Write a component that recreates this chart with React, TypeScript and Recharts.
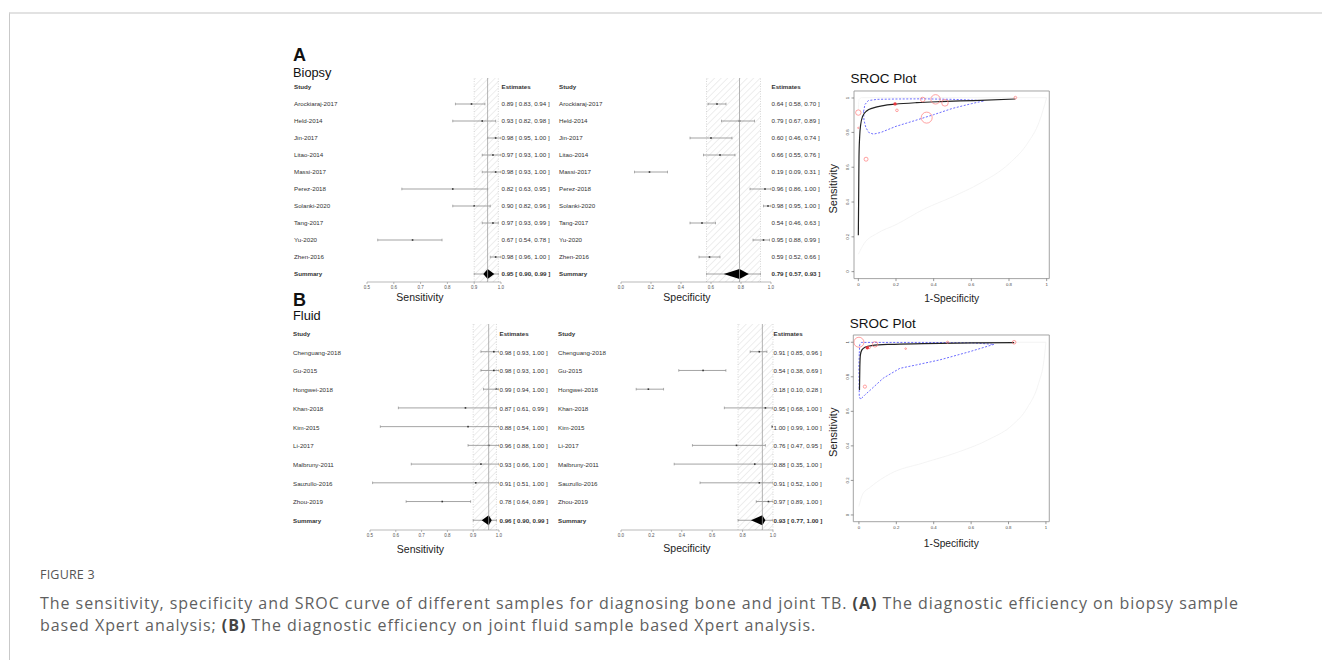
import React from "react";
import {
  Bar,
  ComposedChart,
  Label,
  Line,
  ReferenceArea,
  ReferenceLine,
  Scatter,
  XAxis,
  YAxis,
} from "recharts";

const PLOT_FONT = '"Liberation Sans", Arial, Helvetica, sans-serif';

// ---- (A) biopsy
const biopsyStudies = [
  "Arockiaraj-2017",
  "Held-2014",
  "Jin-2017",
  "Litao-2014",
  "Massi-2017",
  "Perez-2018",
  "Solanki-2020",
  "Tang-2017",
  "Yu-2020",
  "Zhen-2016",
];
const biopsySens = [0.89, 0.93, 0.98, 0.97, 0.98, 0.82, 0.9, 0.97, 0.67, 0.98];
const biopsySensLow = [0.83, 0.82, 0.95, 0.93, 0.93, 0.63, 0.82, 0.93, 0.54, 0.96];
const biopsySensHigh = [0.94, 0.98, 1.0, 1.0, 1.0, 0.95, 0.96, 0.99, 0.78, 1.0];
const biopsySpec = [0.64, 0.79, 0.6, 0.66, 0.19, 0.96, 0.98, 0.54, 0.95, 0.59];
const biopsySpecLow = [0.58, 0.67, 0.46, 0.55, 0.09, 0.86, 0.95, 0.46, 0.88, 0.52];
const biopsySpecHigh = [0.7, 0.89, 0.74, 0.76, 0.31, 1.0, 1.0, 0.63, 0.99, 0.66];
const biopsySummarySens = [0.95, 0.9, 0.99];
const biopsySummarySpec = [0.79, 0.57, 0.93];
const biopsyDiamondSens = [0.934, 0.975];
const biopsyDiamondSpec = [0.685, 0.852];

// ---- (B) joint fluid
const fluidStudies = [
  "Chenguang-2018",
  "Gu-2015",
  "Hongwei-2018",
  "Khan-2018",
  "Kim-2015",
  "Li-2017",
  "Malbruny-2011",
  "Sauzullo-2016",
  "Zhou-2019",
];
const fluidSens = [0.98, 0.98, 0.99, 0.87, 0.88, 0.96, 0.93, 0.91, 0.78];
const fluidSensLow = [0.93, 0.93, 0.94, 0.61, 0.54, 0.88, 0.66, 0.51, 0.64];
const fluidSensHigh = [1.0, 1.0, 1.0, 0.99, 1.0, 1.0, 1.0, 1.0, 0.89];
const fluidSpec = [0.91, 0.54, 0.18, 0.95, 1.0, 0.76, 0.88, 0.91, 0.97];
const fluidSpecLow = [0.85, 0.38, 0.1, 0.68, 0.99, 0.47, 0.35, 0.52, 0.89];
const fluidSpecHigh = [0.96, 0.69, 0.28, 1.0, 1.0, 0.95, 1.0, 1.0, 1.0];
const fluidSummarySens = [0.96, 0.9, 0.99];
const fluidSummarySpec = [0.93, 0.77, 1.0];
const fluidDiamondSens = [0.933, 0.972];
const fluidDiamondSpec = [0.855, 0.95];

const sensTicks = [0.5, 0.6, 0.7, 0.8, 0.9, 1.0];
const specTicks = [0, 0.2, 0.4, 0.6, 0.8, 1.0];
const rocTicks = [0, 0.2, 0.4, 0.6, 0.8, 1];

// SROC, x = 1 - specificity, y = sensitivity, w = study weight (circle size)
const biopsyRocPoints = [
  { x: 0.0, y: 0.914, w: 2.7 },
  { x: 0.0, y: 0.826, w: 0.7 },
  { x: 0.041, y: 0.646, w: 2.0 },
  { x: 0.205, y: 0.927, w: 1.3 },
  { x: 0.342, y: 0.989, w: 2.3 },
  { x: 0.41, y: 0.99, w: 4.7 },
  { x: 0.46, y: 0.97, w: 3.3 },
  { x: 0.363, y: 0.885, w: 5.5 },
  { x: 0.834, y: 1.0, w: 1.3 },
];
const biopsyRocSummary = [{ x: 0.195, y: 0.964 }];
const biopsyRocCurve = [
  { x: 0.0, y: 0.209 },
  { x: 0.002, y: 0.467 },
  { x: 0.0035, y: 0.659 },
  { x: 0.007, y: 0.774 },
  { x: 0.012, y: 0.841 },
  { x: 0.023, y: 0.893 },
  { x: 0.044, y: 0.923 },
  { x: 0.08, y: 0.941 },
  { x: 0.133, y: 0.954 },
  { x: 0.195, y: 0.962 },
  { x: 0.31, y: 0.971 },
  { x: 0.434, y: 0.977 },
  { x: 0.611, y: 0.983 },
  { x: 0.834, y: 0.992 },
];
const biopsyRocRegion = [
  { x: 0.028, y: 0.92 },
  { x: 0.035, y: 0.96 },
  { x: 0.053, y: 0.983 },
  { x: 0.1, y: 0.99 },
  { x: 0.2, y: 0.992 },
  { x: 0.345, y: 0.993 },
  { x: 0.5, y: 0.99 },
  { x: 0.6, y: 0.986 },
  { x: 0.669, y: 0.982 },
  { x: 0.6, y: 0.965 },
  { x: 0.5, y: 0.938 },
  { x: 0.4, y: 0.902 },
  { x: 0.3, y: 0.868 },
  { x: 0.2, y: 0.835 },
  { x: 0.12, y: 0.8 },
  { x: 0.08, y: 0.79 },
  { x: 0.055, y: 0.8 },
  { x: 0.04, y: 0.828 },
  { x: 0.03, y: 0.87 },
  { x: 0.028, y: 0.92 },
];
const biopsyRocFaintLow = [
  { x: 0.0, y: 0.1 },
  { x: 0.03, y: 0.16 },
  { x: 0.1, y: 0.22 },
  { x: 0.2, y: 0.27 },
  { x: 0.35, y: 0.36 },
  { x: 0.5, y: 0.43 },
  { x: 0.65, y: 0.51 },
  { x: 0.8, y: 0.62 },
  { x: 0.9, y: 0.74 },
  { x: 0.96, y: 0.86 },
  { x: 1.0, y: 1.0 },
];
const biopsyRocFaintTop = [
  { x: 0.0, y: 0.93 },
  { x: 0.004, y: 0.99 },
  { x: 0.02, y: 1.0 },
  { x: 1.0, y: 1.0 },
];

const fluidRocPoints = [
  { x: 0.0, y: 1.0, w: 5.0 },
  { x: 0.086, y: 0.988, w: 2.7 },
  { x: 0.055, y: 0.97, w: 1.2 },
  { x: 0.25, y: 0.963, w: 0.8 },
  { x: 0.474, y: 1.0, w: 1.1 },
  { x: 0.83, y: 1.0, w: 1.8 },
  { x: 0.032, y: 0.743, w: 1.6 },
];
const fluidRocSummary = [{ x: 0.045, y: 0.968 }];
const fluidRocCurve = [
  { x: 0.003, y: 0.724 },
  { x: 0.005, y: 0.86 },
  { x: 0.008, y: 0.927 },
  { x: 0.016, y: 0.956 },
  { x: 0.032, y: 0.971 },
  { x: 0.068, y: 0.981 },
  { x: 0.166, y: 0.988 },
  { x: 0.344, y: 0.992 },
  { x: 0.611, y: 0.996 },
  { x: 0.83, y: 0.998 },
];
const fluidRocRegion = [
  { x: 0.002, y: 0.936 },
  { x: 0.004, y: 0.985 },
  { x: 0.014, y: 0.999 },
  { x: 0.344, y: 0.999 },
  { x: 0.6, y: 0.997 },
  { x: 0.722, y: 0.988 },
  { x: 0.594, y: 0.946 },
  { x: 0.433, y: 0.898 },
  { x: 0.308, y: 0.869 },
  { x: 0.219, y: 0.849 },
  { x: 0.13, y: 0.792 },
  { x: 0.077, y: 0.739 },
  { x: 0.032, y: 0.695 },
  { x: 0.009, y: 0.67 },
  { x: 0.002, y: 0.685 },
  { x: 0.0, y: 0.859 },
  { x: 0.002, y: 0.936 },
];
const fluidRocFaintLow = [
  { x: 0.0, y: 0.05 },
  { x: 0.02, y: 0.12 },
  { x: 0.06, y: 0.16 },
  { x: 0.17, y: 0.24 },
  { x: 0.34, y: 0.3 },
  { x: 0.52, y: 0.36 },
  { x: 0.7, y: 0.44 },
  { x: 0.82, y: 0.52 },
  { x: 0.9, y: 0.62 },
  { x: 0.96, y: 0.76 },
  { x: 0.99, y: 0.9 },
  { x: 1.0, y: 1.0 },
];
const fluidRocFaintTop = [
  { x: 0.0, y: 0.97 },
  { x: 0.01, y: 1.0 },
  { x: 1.0, y: 1.0 },
];

type Row = {
  key: string;
  kind: "head" | "study" | "sum";
  text: string;
  est?: number;
  ci?: number[];
  diamond?: number[];
};

const fmt = (e: number, l: number, h: number) =>
  `${e.toFixed(2)} [ ${l.toFixed(2)}, ${h.toFixed(2)} ]`;

function makeRows(
  studies: string[],
  est: number[],
  lo: number[],
  hi: number[],
  sum: number[],
  diamond: number[]
): Row[] {
  const rows: Row[] = [{ key: "Study", kind: "head", text: "Estimates" }];
  studies.forEach((s, i) =>
    rows.push({ key: s, kind: "study", text: fmt(est[i], lo[i], hi[i]), est: est[i], ci: [lo[i], hi[i]] })
  );
  rows.push({
    key: "Summary",
    kind: "sum",
    text: fmt(sum[0], sum[1], sum[2]),
    est: sum[0],
    ci: [sum[1], sum[2]],
    diamond,
  });
  return rows;
}

const CiShape = (props: any) => {
  const { x, y, width, height, payload } = props;
  if (!payload || !payload.ci || !Number.isFinite(x) || !Number.isFinite(width)) return <g />;
  const [lo, hi] = payload.ci;
  const px = (v: number) => x + ((v - lo) / (hi - lo || 1)) * width;
  const cy = y + height / 2;
  const col = "#7d7d7d";
  return (
    <g>
      <line x1={x} x2={x + width} y1={cy} y2={cy} stroke={col} strokeWidth={0.7} />
      <line x1={x} x2={x} y1={cy - 1.3} y2={cy + 1.3} stroke={col} strokeWidth={0.6} />
      <line x1={x + width} x2={x + width} y1={cy - 1.3} y2={cy + 1.3} stroke={col} strokeWidth={0.6} />
      {payload.diamond ? (
        <polygon
          points={`${px(payload.diamond[0])},${cy} ${px(payload.est)},${cy - 5} ${px(payload.diamond[1])},${cy} ${px(
            payload.est
          )},${cy + 5}`}
          fill="#000"
        />
      ) : (
        <rect x={px(payload.est) - 0.8} y={cy - 0.8} width={1.6} height={1.6} fill="#333" />
      )}
    </g>
  );
};

interface ForestProps {
  id: string;
  rows: Row[];
  left: number;
  top: number;
  nameW: number;
  plotW: number;
  estW: number;
  plotH: number;
  domain: [number, number];
  ticks: number[];
  title: string;
  titleDx: number;
  titleDy: number;
  band: number[];
  center: number;
}

function Forest(p: ForestProps) {
  const width = p.nameW + p.plotW + p.estW;
  const height = p.plotH + 26;
  const byKey = new Map(p.rows.map((r) => [r.key, r]));
  const NameTick = (t: any) => {
    const r = byKey.get(t.payload.value);
    if (!r) return <g />;
    return (
      <text
        x={1}
        y={t.y}
        dominantBaseline="central"
        fontSize={6.2}
        fontWeight={r.kind === "study" ? 400 : 700}
        fill="#333"
        fontFamily={PLOT_FONT}
      >
        {r.key}
      </text>
    );
  };
  const EstTick = (t: any) => {
    const r = byKey.get(t.payload.value);
    if (!r) return <g />;
    return (
      <text
        x={p.nameW + p.plotW + 0.5}
        y={t.y}
        dominantBaseline="central"
        fontSize={6.2}
        fontWeight={r.kind === "study" ? 400 : 700}
        fill="#333"
        fontFamily={PLOT_FONT}
      >
        {r.text}
      </text>
    );
  };
  return (
    <div style={{ position: "absolute", left: p.left, top: p.top }}>
      <ComposedChart
        layout="vertical"
        width={width}
        height={height}
        data={p.rows}
        margin={{ top: 0, right: 0, bottom: 0, left: 0 }}
      >
        <defs>
          <pattern id={p.id} width={4.6} height={4.6} patternUnits="userSpaceOnUse" patternTransform="rotate(45)">
            <line x1={0} y1={0} x2={0} y2={4.6} stroke="#c4c4c4" strokeWidth={0.6} />
          </pattern>
        </defs>
        <XAxis
          type="number"
          domain={p.domain}
          ticks={p.ticks}
          allowDataOverflow
          height={26}
          tickSize={2}
          axisLine={{ stroke: "#8a8a8a", strokeWidth: 0.6 }}
          tickLine={{ stroke: "#8a8a8a", strokeWidth: 0.6 }}
          tick={{ fontSize: 4.5, fill: "#555", fontFamily: PLOT_FONT }}
          tickFormatter={(v: number) => v.toFixed(1)}
        >
          <Label
            content={(lp: any) => {
              const vb = lp.viewBox || { x: 0, y: 0, width: 0 };
              return (
                <text
                  x={vb.x + vb.width / 2 + p.titleDx}
                  y={vb.y + p.titleDy}
                  textAnchor="middle"
                  dominantBaseline="central"
                  fontSize={10.5}
                  fill="#222"
                  fontFamily={PLOT_FONT}
                >
                  {p.title}
                </text>
              );
            }}
          />
        </XAxis>
        <YAxis
          yAxisId="names"
          type="category"
          dataKey="key"
          width={p.nameW}
          axisLine={false}
          tickLine={false}
          interval={0}
          tick={NameTick}
        />
        <YAxis
          yAxisId="est"
          orientation="right"
          type="category"
          dataKey="key"
          width={p.estW}
          axisLine={false}
          tickLine={false}
          interval={0}
          tick={EstTick}
        />
        <ReferenceArea yAxisId="names" x1={p.band[0]} x2={p.band[1]} fill={`url(#${p.id})`} fillOpacity={1} stroke="none" />
        <ReferenceLine yAxisId="names" x={p.band[0]} stroke="#bdbdbd" strokeDasharray="1 1.5" strokeWidth={0.6} />
        <ReferenceLine yAxisId="names" x={p.band[1]} stroke="#bdbdbd" strokeDasharray="1 1.5" strokeWidth={0.6} />
        <ReferenceLine yAxisId="names" x={p.center} stroke="#a0a0a0" strokeWidth={0.8} />
        <Bar yAxisId="names" dataKey="ci" barSize={12} shape={CiShape} isAnimationActive={false} />
      </ComposedChart>
    </div>
  );
}

const Ring = (props: any) => {
  const { cx, cy, payload } = props;
  if (!Number.isFinite(cx)) return <g />;
  return <circle cx={cx} cy={cy} r={payload.w} fill="none" stroke="#ff7a7a" strokeWidth={0.7} />;
};

const SumDot = (props: any) => {
  const { cx, cy } = props;
  if (!Number.isFinite(cx)) return <g />;
  return <circle cx={cx} cy={cy} r={1.7} fill="#e8383f" />;
};

const rocFmt = (v: number) => (v === 0 ? "0" : v === 1 ? "1" : String(v));

interface SrocProps {
  left: number;
  box: { l: number; t: number; r: number; b: number };
  domX: [number, number];
  domY: [number, number];
  points: { x: number; y: number; w: number }[];
  summary: { x: number; y: number }[];
  curve: { x: number; y: number }[];
  region: { x: number; y: number }[];
  faint: { x: number; y: number }[][];
  labelDy: number;
  titleY: number;
}

function Sroc(p: SrocProps) {
  const yAxisW = p.box.l - p.left;
  const width = p.box.r - p.left + 4;
  const height = p.box.b - p.box.t + 2 + 30;
  const RotTick = (t: any) => {
    const x = yAxisW - 6;
    return (
      <g>
        <line x1={yAxisW - 2.5} x2={yAxisW} y1={t.y} y2={t.y} stroke="#555" strokeWidth={0.6} />
        <text
          x={x}
          y={t.y}
          transform={`rotate(-90 ${x} ${t.y})`}
          textAnchor="middle"
          dominantBaseline="central"
          fontSize={4.3}
          fill="#444"
          fontFamily={PLOT_FONT}
        >
          {rocFmt(t.payload.value)}
        </text>
      </g>
    );
  };
  return (
    <>
      <div
        style={{
          position: "absolute",
          left: p.box.l - 3.5,
          top: p.titleY,
          fontFamily: PLOT_FONT,
          fontSize: 13.5,
          lineHeight: 1,
          color: "#111",
          whiteSpace: "nowrap",
        }}
      >
        SROC Plot
      </div>
      <div style={{ position: "absolute", left: p.left, top: p.box.t - 2 }}>
        <ComposedChart width={width} height={height} margin={{ top: 2, right: 4, bottom: 0, left: 0 }}>
          <XAxis
            type="number"
            dataKey="x"
            domain={p.domX}
            ticks={rocTicks}
            allowDataOverflow
            height={30}
            axisLine={false}
            tickSize={2.5}
            tickLine={{ stroke: "#555", strokeWidth: 0.6 }}
            tick={{ fontSize: 4.3, fill: "#444", fontFamily: PLOT_FONT }}
            tickFormatter={rocFmt}
          >
            <Label
              content={(lp: any) => {
                const vb = lp.viewBox || { x: 0, y: 0, width: 0 };
                return (
                  <text
                    x={vb.x + vb.width / 2}
                    y={vb.y + p.labelDy}
                    textAnchor="middle"
                    dominantBaseline="central"
                    fontSize={10.2}
                    fill="#222"
                    fontFamily={PLOT_FONT}
                  >
                    1-Specificity
                  </text>
                );
              }}
            />
          </XAxis>
          <YAxis
            type="number"
            dataKey="y"
            domain={p.domY}
            ticks={rocTicks}
            allowDataOverflow
            width={yAxisW}
            axisLine={false}
            tickLine={false}
            tick={RotTick}
          >
            <Label
              content={(lp: any) => {
                const vb = lp.viewBox || { y: 0, height: 0 };
                const cx = 13;
                const cy = vb.y + vb.height / 2 + 4;
                return (
                  <text
                    x={cx}
                    y={cy}
                    transform={`rotate(-90 ${cx} ${cy})`}
                    textAnchor="middle"
                    dominantBaseline="central"
                    fontSize={11}
                    fill="#222"
                    fontFamily={PLOT_FONT}
                  >
                    Sensitivity
                  </text>
                );
              }}
            />
          </YAxis>
          <ReferenceArea
            x1={p.domX[0]}
            x2={p.domX[1]}
            y1={p.domY[0]}
            y2={p.domY[1]}
            fill="none"
            stroke="#9a9a9a"
            strokeWidth={0.9}
          />
          {p.faint.map((f, i) => (
            <Line
              key={i}
              data={f}
              dataKey="y"
              type="monotone"
              stroke="#efefef"
              strokeWidth={0.7}
              dot={false}
              activeDot={false}
              isAnimationActive={false}
            />
          ))}
          <Line
            data={p.region}
            dataKey="y"
            type="linear"
            stroke="#5b5bff"
            strokeWidth={0.9}
            strokeDasharray="2 1.6"
            dot={false}
            activeDot={false}
            isAnimationActive={false}
          />
          <Line
            data={p.curve}
            dataKey="y"
            type="monotone"
            stroke="#222"
            strokeWidth={1.2}
            dot={false}
            activeDot={false}
            isAnimationActive={false}
          />
          <Scatter data={p.points} dataKey="y" shape={Ring} isAnimationActive={false} />
          <Scatter data={p.summary} dataKey="y" shape={SumDot} isAnimationActive={false} />
        </ComposedChart>
      </div>
    </>
  );
}

const panelText = (text: string, left: number, top: number, size: number, bold = false) => (
  <div
    style={{
      position: "absolute",
      left,
      top,
      fontFamily: PLOT_FONT,
      fontSize: size,
      fontWeight: bold ? 700 : 400,
      lineHeight: 1,
      color: "#111",
      whiteSpace: "nowrap",
    }}
  >
    {text}
  </div>
);

const captionLine: React.CSSProperties = {
  position: "absolute",
  left: 40,
  fontFamily: '"Open Sans", sans-serif',
  fontSize: 16,
  lineHeight: "22px",
  letterSpacing: 0.95,
  color: "#5f5f5f",
  whiteSpace: "nowrap",
};

export default function App() {
  const biopsySensRows = makeRows(biopsyStudies, biopsySens, biopsySensLow, biopsySensHigh, biopsySummarySens, biopsyDiamondSens);
  const biopsySpecRows = makeRows(biopsyStudies, biopsySpec, biopsySpecLow, biopsySpecHigh, biopsySummarySpec, biopsyDiamondSpec);
  const fluidSensRows = makeRows(fluidStudies, fluidSens, fluidSensLow, fluidSensHigh, fluidSummarySens, fluidDiamondSens);
  const fluidSpecRows = makeRows(fluidStudies, fluidSpec, fluidSpecLow, fluidSpecHigh, fluidSummarySpec, fluidDiamondSpec);

  return (
    <div
      style={{
        position: "absolute",
        left: 0,
        top: 0,
        width: 1322,
        height: 660,
        background: "#fff",
        overflow: "hidden",
      }}
    >
      <div
        style={{
          position: "absolute",
          left: 9,
          top: 12,
          width: 1320,
          height: 660,
          borderTop: "2px solid #e2e2e2",
          borderLeft: "1px solid #c9c9c9",
        }}
      />

      {panelText("A", 293, 46, 18, true)}
      {panelText("Biopsy", 293, 66.6, 12.8)}
      {panelText("B", 293, 291, 18, true)}
      {panelText("Fluid", 293, 310, 12.8)}

      <Forest
        id="hatchSensA"
        rows={biopsySensRows}
        left={293}
        top={78}
        nameW={74}
        plotW={134}
        estW={56}
        plotH={204}
        domain={[0.5, 1.0]}
        ticks={sensTicks}
        title="Sensitivity"
        titleDx={-14}
        titleDy={14.5}
        band={[biopsySummarySens[1], biopsySummarySens[2]]}
        center={biopsySummarySens[0]}
      />
      <Forest
        id="hatchSpecA"
        rows={biopsySpecRows}
        left={558}
        top={78}
        nameW={63}
        plotW={150}
        estW={52}
        plotH={204}
        domain={[0, 1.0]}
        ticks={specTicks}
        title="Specificity"
        titleDx={-9}
        titleDy={14.5}
        band={[biopsySummarySpec[1], biopsySummarySpec[2]]}
        center={biopsySummarySpec[0]}
      />
      <Forest
        id="hatchSensB"
        rows={fluidSensRows}
        left={292}
        top={324}
        nameW={78}
        plotW={129}
        estW={57}
        plotH={206}
        domain={[0.5, 1.0]}
        ticks={sensTicks}
        title="Sensitivity"
        titleDx={-14}
        titleDy={19}
        band={[fluidSummarySens[1], fluidSummarySens[2]]}
        center={fluidSummarySens[0]}
      />
      <Forest
        id="hatchSpecB"
        rows={fluidSpecRows}
        left={557}
        top={324}
        nameW={64}
        plotW={152}
        estW={50}
        plotH={206}
        domain={[0, 1.0]}
        ticks={specTicks}
        title="Specificity"
        titleDx={-10}
        titleDy={17.6}
        band={[fluidSummarySpec[1], fluidSummarySpec[2]]}
        center={fluidSummarySpec[0]}
      />

      <Sroc
        left={820}
        box={{ l: 854, t: 90.7, r: 1049.3, b: 278.3 }}
        domX={[-0.023, 1.014]}
        domY={[-0.04, 1.038]}
        points={biopsyRocPoints}
        summary={biopsyRocSummary}
        curve={biopsyRocCurve}
        region={biopsyRocRegion}
        faint={[biopsyRocFaintLow, biopsyRocFaintTop]}
        labelDy={20}
        titleY={71.5}
      />
      <Sroc
        left={820}
        box={{ l: 853.3, t: 335, r: 1049.3, b: 521.7 }}
        domX={[-0.03, 1.018]}
        domY={[-0.039, 1.042]}
        points={fluidRocPoints}
        summary={fluidRocSummary}
        curve={fluidRocCurve}
        region={fluidRocRegion}
        faint={[fluidRocFaintLow, fluidRocFaintTop]}
        labelDy={21.6}
        titleY={316.5}
      />

      <div
        style={{
          position: "absolute",
          left: 40,
          top: 569,
          fontFamily: '"Open Sans", sans-serif',
          fontSize: 12.5,
          lineHeight: 1,
          color: "#555",
          letterSpacing: 0.2,
          whiteSpace: "nowrap",
        }}
      >
        FIGURE 3
      </div>
      <div style={{ ...captionLine, top: 592 }}>
        The sensitivity, specificity and SROC curve of different samples for diagnosing bone and joint TB.{" "}
        <b style={{ color: "#444" }}>(A)</b> The diagnostic efficiency on biopsy sample
      </div>
      <div style={{ ...captionLine, top: 614 }}>
        based Xpert analysis; <b style={{ color: "#444" }}>(B)</b> The diagnostic efficiency on joint fluid sample
        based Xpert analysis.
      </div>
    </div>
  );
}
